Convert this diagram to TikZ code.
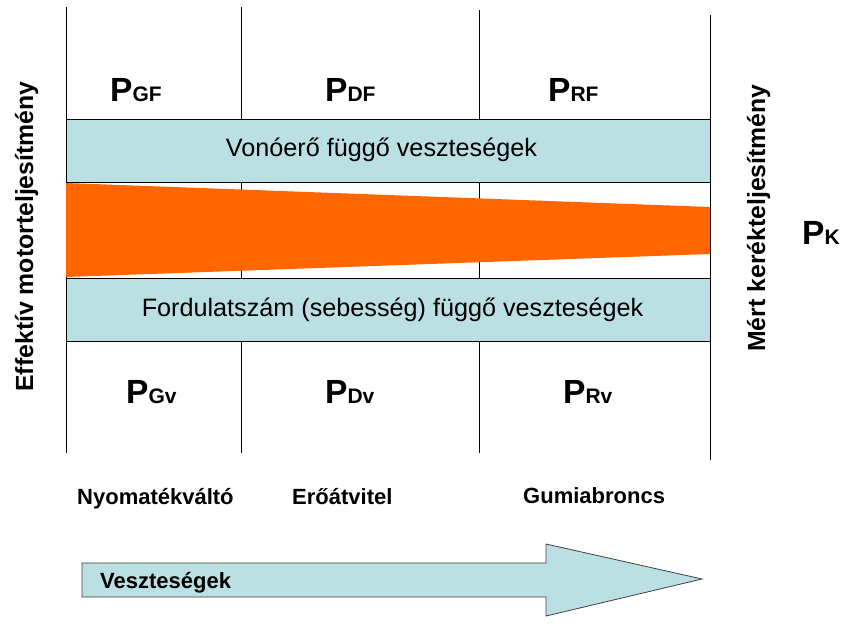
\documentclass[tikz,border=0pt]{standalone}
\usepackage{fontspec}
\setmainfont{Liberation Sans}
\definecolor{bandblue}{HTML}{BBE0E3}
\definecolor{lossorange}{HTML}{FF6600}
\newcommand\Plab[1]{{\fontsize{33.5}{36}\selectfont\bfseries P}{\fontsize{21}{24}\selectfont\bfseries #1}}
\begin{document}
\begin{tikzpicture}[x=1pt,y=-1pt,
  vline/.style={draw=black,line width=0.9pt},
  band/.style={fill=bandblue,draw=black,line width=0.9pt},
  bandtxt/.style={font=\fontsize{25.2}{28}\selectfont,anchor=base,inner sep=0},
  plabel/.style={anchor=base west,inner sep=0},
  steplabel/.style={font=\fontsize{22}{24}\selectfont\bfseries,anchor=base west,inner sep=0},
  sidetxt/.style={font=\fontsize{24.8}{28}\selectfont\bfseries,rotate=90,anchor=base,inner sep=0}]
\useasboundingbox (0,0) rectangle (851,629);
% vertical lines
\coordinate (l1t) at (66,7);   \coordinate (l1b) at (66,453);
\coordinate (l2t) at (241,7);  \coordinate (l2b) at (241,453);
\coordinate (l3t) at (479,10); \coordinate (l3b) at (479,453);
\coordinate (l4t) at (710,15); \coordinate (l4b) at (710,460);
\draw[vline] (l1t) -- (l1b);
\draw[vline] (l2t) -- (l2b);
\draw[vline] (l3t) -- (l3b);
\draw[vline] (l4t) -- (l4b);
% bands
\draw[band] (66,119) rectangle (710,182);
\draw[band] (66,278) rectangle (710,341);
% orange trapezoid
\fill[lossorange] (66,183) -- (710,207) -- (710,254) -- (66,277) -- cycle;
% band texts
\node[bandtxt] (vono) at (381.5,156) {Vonóerő függő veszteségek};
\node[bandtxt] (ford) at (392.5,316) {Fordulatszám (sebesség) függő veszteségek};
% P labels
\node[plabel] (pgf) at (110,101) {\Plab{GF}};
\node[plabel] (pdf) at (325,101) {\Plab{DF}};
\node[plabel] (prf) at (548,101) {\Plab{RF}};
\node[plabel] (pgv) at (126,403) {\Plab{Gv}};
\node[plabel] (pdv) at (325,403) {\Plab{Dv}};
\node[plabel] (prv) at (563,403) {\Plab{Rv}};
\node[plabel] (pk)  at (802,244) {\Plab{K}};
% side texts
\node[sidetxt] (eff) at (33,236.5) {Effektív motorteljesítmény};
\node[sidetxt] (mert) at (765,218) {Mért kerékteljesítmény};
% bottom labels
\node[steplabel] (nyom) at (77,504) {Nyomatékváltó};
\node[steplabel] (ero) at (292,504) {Erőátvitel};
\node[steplabel] (gumi) at (523,503) {Gumiabroncs};
% arrow
\draw[fill=bandblue,draw=black!75,line width=0.8pt]
  (82,563) -- (546,563) -- (546,544) -- (702,579) -- (546,616) -- (546,597) -- (82,597) -- cycle;
\node[steplabel] (veszt) at (100,588) {Veszteségek};
\end{tikzpicture}
\end{document}
